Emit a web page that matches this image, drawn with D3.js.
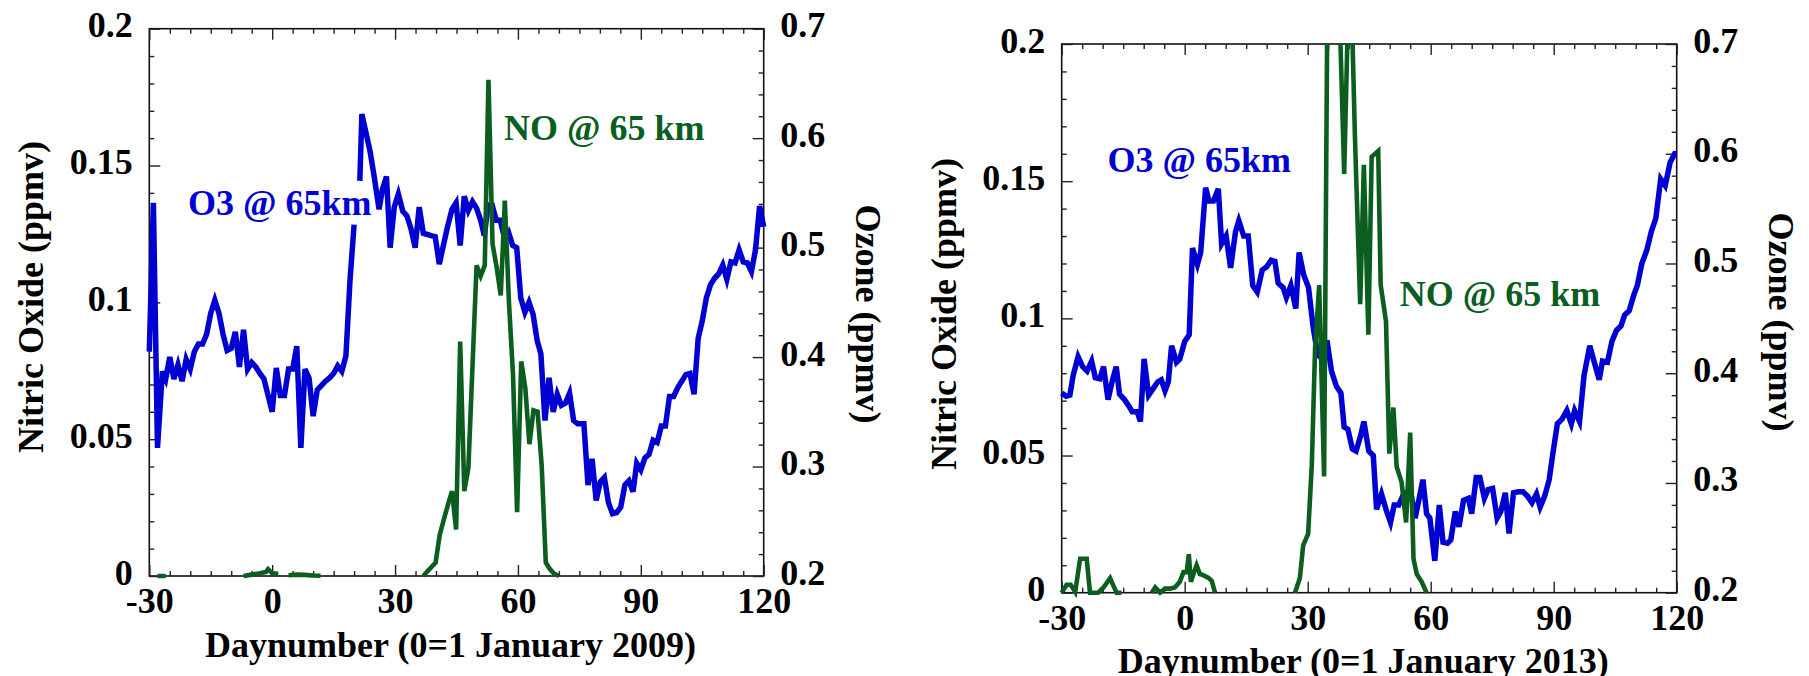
<!DOCTYPE html>
<html>
<head>
<meta charset="utf-8">
<script src="https://cdn.jsdelivr.net/npm/d3@7"></script>
<style>
body { margin: 0; background: #fff; }
svg text { font-family: "Liberation Serif", "Times New Roman", serif; font-weight: bold; }
</style>
</head>
<body>
<div id="chart"></div>
<script>
// ---- data: day number, ozone (ppmv) and nitric oxide (ppmv) at 65 km ----
var o3Days2009 = [-30,-29,-28,-26.8,-26,-25,-24,-23,-22,-21,-20,-19,-18,-17,-16,-15,-14,-13,-12,-11,-10,-9,-8,-7,-6,-5,-4,-3,-2,-1,0,1,2,3,4,5,6,7,8,9,10,11,12,13,14,15,16,17,18,19,20,
  20.7,21.4,21.9,23.9,24.9,26.1,26.9,27.9,
  28.8,29.8,30.8,31.9,32.9,33.9,34.9,35.9,36.9,37.9,
  38.8,39.8,40.8,41.8,42.8,43.9,44.9,45.9,46.9,47.9,
  48.9,49.9,50.9,51.8,52.7,53.7,54.7,55.7,56.7,57.7,
  58.7,59.7,60.7,61.7,62.7,63.7,64.7,65.6,66.6,67.6,
  68.6,69.6,70.6,71.6,72.6,73.6,74.6,76.1,77.1,78.1,
  79.1,80.1,81.1,82.1,83.1,84.1,85.1,86.1,87.1,88.1,
  89,90,91,92,93,94,95,96,97,98,99,100,101,102,103,104,105,106,107,108,109,110,111,112,113,114,115,116,117,118,119,120];
var o3Ppmv2009 = [0.405,0.541,0.317,0.387,
  0.38,0.4,0.38,0.393,0.378,0.398,0.389,0.405,0.412,0.412,
  0.421,0.44,0.452,0.44,0.421,0.406,0.408,0.423,0.391,0.425,
  0.389,0.395,0.391,0.385,0.38,0.365,0.35,0.39,0.365,0.365,
  0.389,0.389,0.41,0.317,0.389,0.381,0.346,0.37,0.374,0.378,
  0.381,0.385,0.392,0.387,0.401,0.47,0.521,
  null,0.561,0.622,0.588,0.565,0.535,0.553,0.565,
  0.5,0.537,0.549,0.533,0.529,0.517,0.5,0.537,0.513,0.512,
  0.511,0.51,0.485,0.502,0.519,0.535,0.541,0.502,0.547,0.534,
  0.542,0.536,0.525,0.511,0.539,0.539,0.525,0.525,0.509,0.514,
  0.502,0.5,0.454,0.441,0.45,0.439,0.415,0.403,0.342,0.381,
  0.35,0.366,0.356,0.358,0.367,0.342,0.339,0.339,0.283,0.307,
  0.269,0.286,0.29,0.267,0.257,0.258,0.263,0.283,0.287,0.277,
  0.303,0.297,0.308,0.311,0.324,0.322,0.337,0.337,0.364,0.364,
  0.372,0.378,0.384,0.385,0.366,0.417,0.433,0.454,0.466,0.472,
  0.476,0.484,0.471,0.487,0.486,0.498,0.487,0.486,0.478,0.498,
  0.538,0.519];

var noDays2009 = [-28,-26,-25,
  -7,-5,-3,-1.5,-1,0,1.5,2.5,
  4,6,8,10,11.8,20,
  36.9,37.9,38.9,39.9,40.9,41.9,42.9,43.9,44.9,45.9,46.9,47.9,48.9,49.9,50.9,51.9,
  52.8,53.8,54.8,55.8,56.8,57.8,58.8,59.8,60.8,61.8,62.8,63.8,64.8,65.8,66.8,67.8,68.8,70.0];
var noPpmv2009 = [0,0,null,
  0,0.0005,0.001,0.0015,0.0025,0.001,0.0008,null,
  0.0003,0.0005,0.0004,0.0002,0.0001,null,
  0,0.0017,0.0033,0.0049,0.015,0.0206,0.026,0.031,0.017,0.0857,0.031,0.0395,0.0765,0.1135,0.1096,0.1135,
  0.1813,0.1214,0.1128,0.1025,0.1372,0.1002,0.0734,0.0233,0.0784,0.0687,0.0482,0.0605,0.06,0.0403,0.0049,0.0025,0.0009,0];

var o3Days2013 = [-30,-28.9,-28,-27.2,-26,-24.9,-23.8,-22.7,-21.8,-20.7,
  -19.8,-18.7,-17.6,-16.7,-15.9,-14.7,-13.6,-12.8,-11.6,-10.8,
  -9.9,-8.8,-7.7,-6.6,-5.7,-4.8,-4,-3.2,-2,-1.2,
  0,1.1,1.9,3.1,3.9,5.1,5.9,7,8.2,9,
  10.1,11.2,12.4,13.2,14.4,15.5,16.6,17.7,18.9,20,
  21.1,22,22.8,24,24.8,25.9,27.1,27.9,29,30.2,
  31.3,32.4,33.6,34.7,35.8,37,38.1,38.9,39.8,40.9,
  41.8,42.9,43.7,44.9,46,46.8,48,49.1,50.2,51.1,
  52.2,53.4,54.5,55.3,56.2,57.3,58.1,59,59.8,61,
  62.1,63,64.1,64.9,66,66.9,68,69.2,70,71.1,
  72,73.1,74,75.1,76.2,77.1,78.2,79.1,80.2,81.4,
  82.5,83.6,84.7,85.8,86.7,87.8,88.9,89.8,90.9,92,
  93.2,94.3,95.1,96.3,97.4,98.8,99.9,101.1,101.9,103.1,
  104.2,105.3,106.4,107.3,108.4,109.6,110.4,111.5,112.7,113.8,
  114.9,116.1,117.2,118.4,119.5,120];
var o3Ppmv2013 = [0.382,0.379,0.38,0.398,0.415,0.406,0.402,0.411,0.396,0.395,
  0.406,0.376,0.394,0.406,0.381,0.376,0.37,0.365,0.365,0.356,
  0.413,0.38,0.386,0.392,0.394,0.384,0.392,0.425,0.41,0.413,
  0.429,0.435,0.514,0.499,0.51,0.569,0.557,0.557,0.568,0.518,
  0.525,0.496,0.529,0.539,0.525,0.525,0.48,0.474,0.494,0.497,
  0.503,0.502,0.482,0.478,0.469,0.48,0.459,0.51,0.49,0.478,
  0.443,0.417,0.413,0.43,0.402,0.388,0.382,0.351,0.349,0.331,
  0.329,0.343,0.356,0.329,0.325,0.276,0.29,0.276,0.264,0.28,
  0.28,0.29,0.292,0.288,0.268,0.288,0.303,0.272,0.268,0.229,
  0.28,0.246,0.245,0.248,0.274,0.26,0.284,0.286,0.272,0.305,
  0.305,0.286,0.294,0.295,0.268,0.274,0.291,0.254,0.291,0.292,
  0.292,0.288,0.282,0.29,0.278,0.288,0.303,0.327,0.354,0.358,
  0.366,0.354,0.366,0.356,0.398,0.425,0.41,0.394,0.411,0.41,
  0.429,0.439,0.443,0.453,0.457,0.472,0.48,0.5,0.512,0.529,
  0.541,0.577,0.571,0.592,0.6,0.6];

var noDays2013 = [-30,-28.8,-27.8,-26.7,-25.5,-23.9,-23.1,-21.1,-19.8,-18.2,-17.4,-16.6,-15.4,-12,
  -8.05,-7.2,-6,-4.8,-3.6,-2.4,-1.2,-0.3,0.5,1.0,1.5,2.3,2.9,3.7,4.5,5.8,6.6,7.4,15,
  26.9,28.1,28.9,30.1,31.0,31.8,32.8,34.0,35.0,36.5,37.9,38.9,39.9,40.7,41.5,42.8,43.7,44.8,45.6,
  47.2,47.8,49.1,49.9,50.9,51.7,52.9,54.0,55.0,55.8,56.6,57.8,59.0];
var noPpmv2013 = [0,0.0029,0.0029,0.0003,0.0124,0.0124,0,0,0.0019,0.0053,0.0026,0,0,null,
  0,0.0019,0,0.0015,0.0015,0.0019,0.004,0.0075,0.0075,0.014,0.004,0.0075,0.01,0.0068,0.0064,0.0054,0.0043,0,null,
  0,0.0054,0.0173,0.0214,0.0466,0.0891,0.1121,0.0424,0.26,0.28,0.205,0.1526,0.215,0.215,0.1672,0.1052,0.156,0.094,0.1589,
  0.161,0.1121,0.0989,0.0507,0.0675,0.0459,0.0403,0.0256,0.0584,0.0124,0.0068,0.004,0];

var years = [2009, 2013];
var xMajor = [-30, 0, 30, 60, 90, 120];
var noMajor = [0, 0.05, 0.1, 0.15, 0.2];
var o3Major = [0.2, 0.3, 0.4, 0.5, 0.6, 0.7];

// ---- layout ----
var width = 1809, height = 676;
var blue = "#0000d2", green = "#0b5e1f";

var panels = [
  {year: years[0], left: 149.3, right: 763.7, top: 28.7, bottom: 576,
   o3Days: o3Days2009, o3: o3Ppmv2009, noDays: noDays2009, no: noPpmv2009,
   o3Label: [188, 215], noLabel: [504, 140], noTitleY: 297, ozTitleY: 314},
  {year: years[1], left: 1061.7, right: 1676.7, top: 44, bottom: 592.7,
   o3Days: o3Days2013, o3: o3Ppmv2013, noDays: noDays2013, no: noPpmv2013,
   o3Label: [1107.5, 171.5], noLabel: [1399.7, 306], noTitleY: 314, ozTitleY: 322}
];

var svg = d3.select("#chart").append("svg")
    .attr("width", width).attr("height", height);

function styleAxis(g) {
  g.select(".domain").remove();
  g.selectAll("line").attr("stroke", "#222").attr("stroke-width", 1.4);
  g.attr("font-size", 36).attr("font-family", null);
  g.selectAll("text").attr("fill", "#000");
}

function drawPanel(p, i) {
  var x = d3.scaleLinear().domain([-30, 120]).range([p.left, p.right]);
  var yNO = d3.scaleLinear().domain([0, 0.2]).range([p.bottom, p.top]);
  var yO3 = d3.scaleLinear().domain([0.2, 0.7]).range([p.bottom, p.top]);
  var h = p.bottom - p.top, w = p.right - p.left;

  // only the top edge really clips (NO spikes run off the 0.2 limit)
  svg.append("clipPath").attr("id", "clip" + i).append("rect")
      .attr("x", p.left - 4).attr("y", p.top).attr("width", w + 8).attr("height", h + 5);

  var xMinor = d3.range(-30, 121, 5).filter(function(d){ return d % 30 != 0; });
  var noMinor = d3.range(0, 0.2001, 0.01).filter(function(d){ return Math.round(d*100) % 5 != 0; });
  var o3Minor = d3.range(0.2, 0.7001, 0.02).filter(function(d){ return Math.round(d*100) % 10 != 0; });

  var fmt = function(d){ return String(+d.toFixed(2)); };

  // frame
  svg.append("rect").attr("x", p.left).attr("y", p.top)
      .attr("width", w).attr("height", h)
      .attr("fill", "none").attr("stroke", "#111").attr("stroke-width", 1.6);

  // bottom
  var gb = svg.append("g").attr("transform", "translate(0," + p.bottom + ")");
  gb.call(d3.axisBottom(x).tickValues(xMajor).tickSize(-11).tickFormat(fmt));
  gb.selectAll("text").attr("dy", null).attr("y", 37);
  styleAxis(gb);
  var gbm = svg.append("g").attr("transform", "translate(0," + p.bottom + ")");
  gbm.call(d3.axisBottom(x).tickValues(xMinor).tickSize(-5).tickFormat(""));
  styleAxis(gbm);

  // top
  var gt = svg.append("g").attr("transform", "translate(0," + p.top + ")");
  gt.call(d3.axisTop(x).tickValues(xMajor).tickSize(-11).tickFormat(""));
  styleAxis(gt);
  var gtm = svg.append("g").attr("transform", "translate(0," + p.top + ")");
  gtm.call(d3.axisTop(x).tickValues(xMinor).tickSize(-5).tickFormat(""));
  styleAxis(gtm);

  // left (NO)
  var gl = svg.append("g").attr("transform", "translate(" + p.left + ",0)");
  gl.call(d3.axisLeft(yNO).tickValues(noMajor).tickSize(-11).tickFormat(fmt));
  gl.selectAll("text").attr("dy", null).attr("x", -16.5).attr("y", 8);
  styleAxis(gl);
  var glm = svg.append("g").attr("transform", "translate(" + p.left + ",0)");
  glm.call(d3.axisLeft(yNO).tickValues(noMinor).tickSize(-5).tickFormat(""));
  styleAxis(glm);

  // right (O3)
  var gr = svg.append("g").attr("transform", "translate(" + p.right + ",0)");
  gr.call(d3.axisRight(yO3).tickValues(o3Major).tickSize(-11).tickFormat(fmt));
  gr.selectAll("text").attr("dy", null).attr("x", 16.5).attr("y", 8);
  styleAxis(gr);
  var grm = svg.append("g").attr("transform", "translate(" + p.right + ",0)");
  grm.call(d3.axisRight(yO3).tickValues(o3Minor).tickSize(-5).tickFormat(""));
  styleAxis(grm);

  // series
  var lines = svg.append("g").attr("clip-path", "url(#clip" + i + ")");
  var o3Line = d3.line()
      .defined(function(d){ return d[1] != null; })
      .x(function(d){ return x(d[0]); })
      .y(function(d){ return yO3(d[1]); });
  var noLine = d3.line()
      .defined(function(d){ return d[1] != null; })
      .x(function(d){ return x(d[0]); })
      .y(function(d){ return yNO(d[1]); });

  lines.append("path").datum(d3.zip(p.o3Days, p.o3))
      .attr("d", o3Line).attr("fill", "none")
      .attr("stroke", blue).attr("stroke-width", 5.5);
  lines.append("path").datum(d3.zip(p.noDays, p.no))
      .attr("d", noLine).attr("fill", "none")
      .attr("stroke", green).attr("stroke-width", 4.6);

  // titles
  svg.append("text")
      .attr("x", (p.left + p.right) / 2 - 6).attr("y", p.bottom + 80.5)
      .attr("text-anchor", "middle").attr("font-size", 36)
      .text("Daynumber (0=1 January " + p.year + ")");
  svg.append("text")
      .attr("transform", "translate(" + (p.left - 106) + "," + p.noTitleY + ") rotate(-90)")
      .attr("text-anchor", "middle").attr("font-size", 36)
      .text("Nitric Oxide (ppmv)");
  svg.append("text")
      .attr("transform", "translate(" + (p.right + 92) + "," + p.ozTitleY + ") rotate(90)")
      .attr("text-anchor", "middle").attr("font-size", 36)
      .text("Ozone (ppmv)");

  // series labels
  svg.append("text").attr("x", p.o3Label[0]).attr("y", p.o3Label[1])
      .attr("font-size", 36).attr("fill", blue).text("O3 @ 65km");
  svg.append("text").attr("x", p.noLabel[0]).attr("y", p.noLabel[1])
      .attr("font-size", 36).attr("fill", green).text("NO @ 65 km");
}

panels.forEach(drawPanel);
</script>
</body>
</html>
